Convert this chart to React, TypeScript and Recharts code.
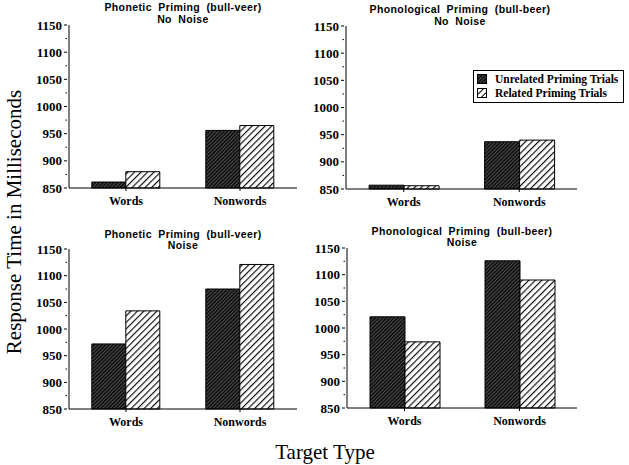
import React from 'react';
import { BarChart, Bar, XAxis, YAxis } from 'recharts';

const categories = ['Words', 'Nonwords'];
const minorTicks = [850, 875, 900, 925, 950, 975, 1000, 1025, 1050, 1075, 1100, 1125, 1150];

const phoneticNoNoiseUnrelated = [861, 956];
const phoneticNoNoiseRelated = [880, 965];
const phonologicalNoNoiseUnrelated = [857, 937];
const phonologicalNoNoiseRelated = [856, 940];
const phoneticNoiseUnrelated = [972, 1075];
const phoneticNoiseRelated = [1034, 1121];
const phonologicalNoiseUnrelated = [1021, 1126];
const phonologicalNoiseRelated = [974, 1090];

const legendLabels = ['Unrelated Priming Trials', 'Related Priming Trials'];

const build = (u: number[], r: number[]) =>
  categories.map((c, i) => ({ category: c, unrelated: u[i], related: r[i] }));

const SERIF = '"Liberation Serif", "Times New Roman", serif';
const SANS = '"Liberation Sans", Arial, sans-serif';

const YTick = (props: any) => {
  const { x, y, payload } = props;
  const major = payload.value % 50 === 0;
  return (
    <g>
      <line x1={x + 6} x2={x + 6 - (major ? 3 : 1.5)} y1={y} y2={y} stroke="#000" strokeWidth={1} />
      {major && (
        <text x={x + 1} y={y} dy="0.35em" textAnchor="end" fontFamily={SERIF} fontWeight="bold" fontSize={13} fill="#000">
          {payload.value}
        </text>
      )}
    </g>
  );
};

type PanelProps = {
  id: string;
  left: number;
  top: number;
  width: number;
  height: number;
  mt: number;
  mr: number;
  yw: number;
  data: any[];
};

const Panel = ({ id, left, top, width, height, mt, mr, yw, data }: PanelProps) => (
  <div style={{ position: 'absolute', left, top }}>
    <BarChart
      width={width}
      height={height}
      data={data}
      margin={{ top: mt, right: mr, left: 0, bottom: 0 }}
      barCategoryGap="20%"
      barGap={0}
    >
      <defs>
        <pattern id={`dark-${id}`} patternUnits="userSpaceOnUse" width="2.6" height="2.6" patternTransform="rotate(45)">
          <rect width="2.6" height="2.6" fill="#111" />
          <line x1="0.5" y1="0" x2="0.5" y2="2.6" stroke="#707070" strokeWidth="0.6" />
        </pattern>
        <pattern id={`light-${id}`} patternUnits="userSpaceOnUse" width="4.6" height="4.6" patternTransform="rotate(45)">
          <rect width="4.6" height="4.6" fill="#fff" />
          <line x1="0.6" y1="0" x2="0.6" y2="4.6" stroke="#000" strokeWidth="1.1" />
        </pattern>
      </defs>
      <XAxis
        dataKey="category"
        height={24}
        tickSize={3}
        tickMargin={5}
        axisLine={{ stroke: '#000' }}
        tickLine={{ stroke: '#000' }}
        tick={{ fontFamily: SERIF, fontWeight: 'bold', fontSize: 12, fill: '#000' }}
      />
      <YAxis
        type="number"
        domain={[850, 1150]}
        ticks={minorTicks}
        interval={0}
        width={yw}
        axisLine={{ stroke: '#000' }}
        tickLine={false}
        tick={<YTick />}
      />
      <Bar dataKey="unrelated" fill={`url(#dark-${id})`} stroke="#000" strokeWidth={1} isAnimationActive={false} />
      <Bar dataKey="related" fill={`url(#light-${id})`} stroke="#000" strokeWidth={1} isAnimationActive={false} />
    </BarChart>
  </div>
);

const Title = ({ cx, top, lines, lh }: { cx: number; top: number; lines: string[]; lh: number }) => (
  <div
    style={{
      position: 'absolute',
      left: cx - 120,
      top,
      width: 240,
      textAlign: 'center',
      fontFamily: SANS,
      fontWeight: 'bold',
      fontSize: 10.5,
      letterSpacing: 0.4,
      lineHeight: `${lh}px`,
      wordSpacing: 3,
      color: '#000',
      whiteSpace: 'pre',
    }}
  >
    {lines.map((l) => (
      <div key={l}>{l}</div>
    ))}
  </div>
);

const Swatch = ({ dark }: { dark: boolean }) => (
  <svg width={10} height={10} style={{ display: 'block' }}>
    <defs>
      <pattern id={dark ? 'lg-dark' : 'lg-light'} patternUnits="userSpaceOnUse" width={dark ? 2.6 : 4.6} height={dark ? 2.6 : 4.6} patternTransform="rotate(45)">
        <rect width="5" height="5" fill={dark ? '#111' : '#fff'} />
        <line x1="0.5" y1="0" x2="0.5" y2="5" stroke={dark ? '#707070' : '#000'} strokeWidth={dark ? 0.6 : 1} />
      </pattern>
    </defs>
    <rect x={0.5} y={0.5} width={9} height={9} fill={`url(#${dark ? 'lg-dark' : 'lg-light'})`} stroke="#000" strokeWidth={1} />
  </svg>
);

export default function App() {
  return (
    <div style={{ position: 'absolute', left: 0, top: 0, width: 629, height: 465, background: '#fff', overflow: 'hidden' }}>
      <Panel id="tl" left={0} top={0} width={310} height={212} mt={25} mr={13} yw={69} data={build(phoneticNoNoiseUnrelated, phoneticNoNoiseRelated)} />
      <Panel id="tr" left={276} top={0} width={320} height={213} mt={26} mr={19} yw={70} data={build(phonologicalNoNoiseUnrelated, phonologicalNoNoiseRelated)} />
      <Panel id="bl" left={0} top={220} width={310} height={213} mt={29} mr={13} yw={69} data={build(phoneticNoiseUnrelated, phoneticNoiseRelated)} />
      <Panel id="br" left={276} top={220} width={320} height={212} mt={28} mr={19} yw={71} data={build(phonologicalNoiseUnrelated, phonologicalNoiseRelated)} />

      <Title cx={183} top={1} lh={12} lines={['Phonetic Priming (bull-veer)', 'No Noise']} />
      <Title cx={460} top={3} lh={12} lines={['Phonological Priming (bull-beer)', 'No Noise']} />
      <Title cx={183} top={229} lh={11} lines={['Phonetic Priming (bull-veer)', 'Noise']} />
      <Title cx={462} top={226} lh={11} lines={['Phonological Priming (bull-beer)', 'Noise']} />

      <div
        style={{
          position: 'absolute',
          left: 473,
          top: 70,
          width: 149,
          height: 31,
          border: '1px solid #000',
          fontFamily: SERIF,
          fontWeight: 'bold',
          fontSize: 11.5,
          color: '#000',
        }}
      >
        {legendLabels.map((l, i) => (
          <div key={l} style={{ position: 'absolute', left: 3, top: 1 + i * 14, height: 14, display: 'flex', alignItems: 'center' }}>
            <Swatch dark={i === 0} />
            <span style={{ marginLeft: 8, whiteSpace: 'nowrap' }}>{l}</span>
          </div>
        ))}
      </div>

      <div
        style={{
          position: 'absolute',
          left: 14,
          top: 222,
          transform: 'translate(-50%, -50%) rotate(-90deg)',
          fontFamily: SERIF,
          fontSize: 21,
          whiteSpace: 'nowrap',
          color: '#000',
        }}
      >
        Response Time in Milliseconds
      </div>
      <div
        style={{
          position: 'absolute',
          left: 325,
          top: 452,
          transform: 'translate(-50%, -50%)',
          fontFamily: SERIF,
          fontSize: 21,
          whiteSpace: 'nowrap',
          color: '#000',
        }}
      >
        Target Type
      </div>
    </div>
  );
}
